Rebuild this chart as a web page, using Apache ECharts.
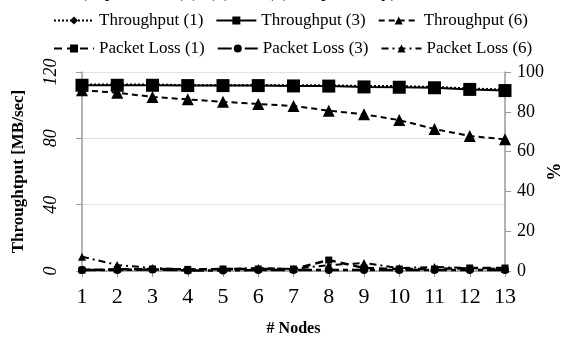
<!DOCTYPE html>
<html>
<head>
<meta charset="utf-8">
<script src="https://cdn.jsdelivr.net/npm/echarts@6/dist/echarts.min.js"></script>
<style>
  html, body { margin: 0; padding: 0; background: #fff; }
  #chart { width: 566px; height: 339px; }
</style>
</head>
<body>
<div id="chart"></div>
<script>
const nodes = ['1', '2', '3', '4', '5', '6', '7', '8', '9', '10', '11', '12', '13'];

const throughput1 = [112.5, 112.5, 112.5, 112, 112, 112, 112, 112, 111.5, 111.5, 111, 110, 109.5];
const throughput3 = [112, 112, 112, 111.8, 111.8, 111.8, 111.6, 111.5, 111, 110.8, 110.5, 109.5, 108.8];
const throughput6 = [109, 107.5, 105, 103.5, 102, 100.7, 99.5, 96.7, 94.5, 91, 85.6, 81.4, 79.4];

const packetLoss1 = [0.5, 0.8, 1, 0.8, 1, 1, 1, 5.5, 1.5, 1, 1, 1.5, 1.5];
const packetLoss3 = [0.5, 0.5, 0.8, 0.3, 0.3, 0.5, 0.5, 0.5, 0.5, 0.5, 0.5, 0.5, 0.5];
const packetLoss6 = [7.2, 3, 1.5, 0.8, 1, 1.5, 1, 3, 4, 1.5, 2, 1.5, 1];

const serif = '"Liberation Serif", "DejaVu Serif", serif';

const chart = echarts.init(document.getElementById('chart'));

const base = {
    type: 'line',
    color: '#000',
    animation: false,
    itemStyle: { color: '#000' }
};

const legendText = { fontFamily: serif, fontSize: 17, color: '#000' };

chart.setOption({
    textStyle: { fontFamily: serif, color: '#000' },
    graphic: [{
        type: 'text',
        left: 62,
        top: -17,
        style: {
            text: 'rs (depicted as (1), (3) and (6), respectively).',
            font: '19px ' + serif,
            fill: '#000'
        }
    }],
    legend: [
        {
            data: ['Throughput (1)', 'Throughput (3)', 'Throughput (6)'],
            left: 48,
            top: 7,
            itemWidth: 40,
            itemHeight: 10,
            itemGap: 12,
            textStyle: legendText
        },
        {
            data: ['Packet Loss (1)', 'Packet Loss (3)', 'Packet Loss (6)'],
            left: 48,
            top: 35,
            itemWidth: 40,
            itemHeight: 10,
            itemGap: 12,
            textStyle: legendText
        }
    ],
    grid: { left: 82, right: 61, top: 72, bottom: 68, containLabel: false, outerBoundsMode: 'none' },
    xAxis: {
        type: 'category',
        data: nodes,
        boundaryGap: false,
        name: '# Nodes',
        nameLocation: 'middle',
        nameGap: 50,
        nameTextStyle: { fontFamily: serif, fontSize: 16, fontWeight: 'bold', color: '#000' },
        axisLine: { lineStyle: { color: '#999', width: 1.5 } },
        axisTick: { alignWithLabel: true, length: 6, lineStyle: { color: '#999' } },
        axisLabel: { fontFamily: serif, fontSize: 22, color: '#000', margin: 15 },
        splitLine: { show: false }
    },
    yAxis: [
        {
            type: 'value',
            min: 0,
            max: 120,
            interval: 40,
            name: 'Throughtput [MB/sec]',
            nameLocation: 'middle',
            nameGap: 55,
            nameMoveOverlap: false,
            nameTextStyle: { fontFamily: serif, fontSize: 17, fontWeight: 'bold', color: '#000' },
            axisLine: { show: true, lineStyle: { color: '#999', width: 1.5 } },
            axisTick: { show: true, length: 6, lineStyle: { color: '#999' } },
            axisLabel: { fontFamily: serif, fontSize: 18, fontStyle: 'italic', color: '#000', rotate: 90, margin: 22 },
            splitLine: { lineStyle: { color: '#e2e2e2' } }
        },
        {
            type: 'value',
            min: 0,
            max: 100,
            interval: 20,
            name: '%',
            nameLocation: 'middle',
            nameGap: 38,
            nameMoveOverlap: false,
            nameRotate: -90,
            nameTextStyle: { fontFamily: serif, fontSize: 18, fontWeight: 'bold', color: '#000' },
            axisLine: { show: true, lineStyle: { color: '#999', width: 1.5 } },
            axisTick: { show: true, length: 6, lineStyle: { color: '#999' } },
            axisLabel: { fontFamily: serif, fontSize: 18, color: '#000', margin: 12 },
            splitLine: { show: false }
        }
    ],
    series: [
        {
            ...base,
            name: 'Throughput (1)',
            yAxisIndex: 0,
            data: throughput1,
            symbol: 'diamond',
            symbolSize: 8,
            lineStyle: { color: '#000', width: 2, type: [2, 2] }
        },
        {
            ...base,
            name: 'Throughput (3)',
            yAxisIndex: 0,
            data: throughput3,
            symbol: 'rect',
            symbolSize: 13,
            lineStyle: { color: '#000', width: 2, type: 'solid' }
        },
        {
            ...base,
            name: 'Throughput (6)',
            yAxisIndex: 0,
            data: throughput6,
            symbol: 'triangle',
            symbolSize: 12,
            lineStyle: { color: '#000', width: 2, type: [6, 4] }
        },
        {
            ...base,
            name: 'Packet Loss (1)',
            yAxisIndex: 1,
            data: packetLoss1,
            symbol: 'rect',
            symbolSize: 7,
            lineStyle: { color: '#000', width: 2.5, type: [8, 5] }
        },
        {
            ...base,
            name: 'Packet Loss (3)',
            yAxisIndex: 1,
            data: packetLoss3,
            symbol: 'circle',
            symbolSize: 8,
            lineStyle: { color: '#000', width: 2.5, type: [14, 4, 5, 4] }
        },
        {
            ...base,
            name: 'Packet Loss (6)',
            yAxisIndex: 1,
            data: packetLoss6,
            symbol: 'triangle',
            symbolSize: 8,
            lineStyle: { color: '#000', width: 2, type: [7, 4, 2, 4] }
        }
    ]
});
</script>
</body>
</html>
